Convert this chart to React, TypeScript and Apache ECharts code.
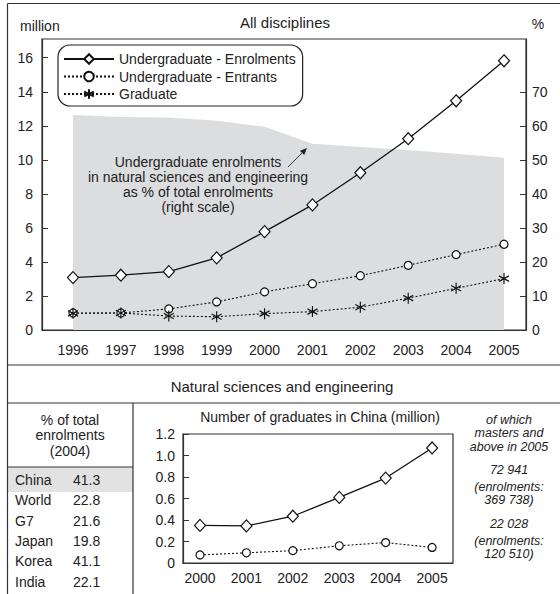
import React, { useEffect, useRef } from "react";
import * as echarts from "echarts";

const years = [1996, 1997, 1998, 1999, 2000, 2001, 2002, 2003, 2004, 2005];
const enrolments = [3.08, 3.22, 3.43, 4.24, 5.78, 7.35, 9.24, 11.24, 13.47, 15.82];
const entrants = [1.0, 1.0, 1.24, 1.65, 2.24, 2.72, 3.19, 3.8, 4.43, 5.04];
const graduates = [0.98, 1.0, 0.82, 0.78, 0.96, 1.08, 1.34, 1.87, 2.45, 3.02];
const nseSharePct = [63.2, 62.6, 62.4, 61.5, 59.7, 54.7, 53.8, 52.9, 51.8, 50.6];

const leftTicks = [0, 2, 4, 6, 8, 10, 12, 14, 16];
const rightTicks = [0, 10, 20, 30, 40, 50, 60, 70];

const nseYears = [2000, 2001, 2002, 2003, 2004, 2005];
const nseGraduates = [0.35, 0.345, 0.435, 0.61, 0.79, 1.07];
const nseMasters = [0.075, 0.095, 0.115, 0.16, 0.19, 0.145];

const countries = ["China", "World", "G7", "Japan", "Korea", "India"];
const countryShares = ["41.3", "22.8", "21.6", "19.8", "41.1", "22.1"];

const sideNotes = [
  "of which\nmasters and\nabove in 2005",
  "72 941",
  "(enrolments:\n369 738)",
  "22 028",
  "(enrolments:\n120 510)",
];
const sideNoteY = [433, 470, 493.5, 524, 547.5];

const FONT = "'Liberation Sans', Arial, Helvetica, sans-serif";
const INK = "#222";
const ASTERISK = "path://M5,0L5,10M0.67,2.5L9.33,7.5M0.67,7.5L9.33,2.5";

export default function App() {
  const ref = useRef<HTMLDivElement>(null);
  useEffect(() => {
    if (!ref.current) return;
    const chart = echarts.init(ref.current, null, { renderer: "svg" });
    const pair = (xs: number[], ys: number[]) => xs.map((x, i) => [x, ys[i]]);
    const txt = (text: string, x: number, y: number, extra: any = {}) => ({
      type: "text",
      x,
      y,
      z: 100,
      silent: true,
      style: {
        text,
        fill: INK,
        font: `14px ${FONT}`,
        textAlign: "center",
        textVerticalAlign: "middle",
        ...extra,
      },
    });
    const ln = (x1: number, y1: number, x2: number, y2: number, w = 1.2) => ({
      type: "line",
      z: 100,
      silent: true,
      shape: { x1, y1, x2, y2 },
      style: { stroke: "#333", lineWidth: w },
    });

    const graphics: any[] = [
      { type: "rect", silent: true, z: 1, shape: { x: 8, y: 467, width: 125, height: 25 }, style: { fill: "#e2e2e2" } },
      ln(7.5, 3.5, 560, 3.5),
      ln(7.5, 3.5, 7.5, 594),
      ln(7.5, 365, 560, 365),
      ln(7.5, 403, 560, 403),
      ln(133, 403, 133, 594),
      ln(7.5, 467, 133, 467),
      txt("All disciplines", 285, 22, { font: `15px ${FONT}` }),
      txt("million", 20, 26, { textAlign: "left" }),
      txt("%", 538, 24),
      txt("Undergraduate enrolments", 198, 162),
      txt("in natural sciences and engineering", 198, 177),
      txt("as % of total enrolments", 198, 192),
      txt("(right scale)", 198, 207),
      ln(288, 167, 303, 152, 1),
      {
        type: "polygon",
        z: 100,
        silent: true,
        shape: { points: [[307, 148], [304.2, 155.1], [299.9, 150.8]] },
        style: { fill: "#222" },
      },
      txt("Natural sciences and engineering", 282, 386, { font: `15px ${FONT}` }),
      txt("% of total", 70, 420),
      txt("enrolments", 70, 435),
      txt("(2004)", 70, 451),
      txt("Number of graduates in China (million)", 320, 417),
    ];
    countries.forEach((c, i) => {
      graphics.push(txt(c, 15, 480 + i * 20.3, { textAlign: "left" }));
      graphics.push(txt(countryShares[i], 73, 480 + i * 20.3, { textAlign: "left" }));
    });
    sideNotes.forEach((t, i) => {
      graphics.push(txt(t, 509, sideNoteY[i], { font: `italic 12.5px ${FONT}`, lineHeight: 13.5 }));
    });

    const axisText = { color: INK, fontSize: 14, fontFamily: FONT };

    chart.setOption({
      animation: false,
      textStyle: { fontFamily: FONT },
      grid: [
        { left: 42, top: 39, width: 484, height: 291, show: true, borderColor: "#333", borderWidth: 1.2, backgroundColor: "transparent" },
        { left: 183, top: 434, width: 270, height: 129, show: true, borderColor: "#333", borderWidth: 1.2, backgroundColor: "transparent" },
      ],
      legend: {
        data: ["Undergraduate - Enrolments", "Undergraduate - Entrants", "Graduate"],
        orient: "vertical",
        left: 58,
        top: 45,
        itemWidth: 50,
        itemHeight: 12,
        itemGap: 3.5,
        padding: [7, 7, 5, 5],
        borderColor: "#222",
        borderWidth: 1.2,
        borderRadius: 12,
        selectedMode: false,
        textStyle: { color: INK, fontSize: 14, fontFamily: FONT, lineHeight: 14 },
      },
      xAxis: [
        {
          type: "value",
          gridIndex: 0,
          min: 1995.353,
          max: 2005.459,
          axisLine: { lineStyle: { color: "#333", width: 1.2 } },
          axisTick: { show: false },
          splitLine: { show: false },
          axisLabel: { ...axisText, margin: 13, customValues: years, formatter: (v: number) => String(v) },
        },
        {
          type: "value",
          gridIndex: 1,
          min: 1999.634,
          max: 2005.45,
          axisLine: { lineStyle: { color: "#333", width: 1.2 } },
          axisTick: { show: false },
          splitLine: { show: false },
          axisLabel: { ...axisText, margin: 8, customValues: nseYears, formatter: (v: number) => String(v) },
        },
      ],
      yAxis: [
        {
          type: "value",
          gridIndex: 0,
          min: 0,
          max: 17.1,
          axisLine: { show: true, lineStyle: { color: "#333", width: 1.2 } },
          axisTick: { show: true, inside: true, length: 6, customValues: leftTicks, lineStyle: { color: "#333" } },
          splitLine: { show: false },
          axisLabel: { ...axisText, margin: 9, customValues: leftTicks },
        },
        {
          type: "value",
          gridIndex: 0,
          position: "right",
          min: 0,
          max: 85.5,
          axisLine: { show: true, lineStyle: { color: "#333", width: 1.2 } },
          axisTick: { show: true, inside: true, length: 6, customValues: rightTicks, lineStyle: { color: "#333" } },
          splitLine: { show: false },
          axisLabel: { ...axisText, margin: 6, customValues: rightTicks },
        },
        {
          type: "value",
          gridIndex: 1,
          min: 0,
          max: 1.2,
          interval: 0.2,
          axisLine: { show: true, lineStyle: { color: "#333", width: 1.2 } },
          axisTick: { show: true, inside: true, length: 6, lineStyle: { color: "#333" } },
          splitLine: { show: false },
          axisLabel: { ...axisText, margin: 8, formatter: (v: number) => (v === 0 ? "0" : v.toFixed(1)) },
        },
      ],
      series: [
        {
          name: "NSE share",
          type: "line",
          xAxisIndex: 0,
          yAxisIndex: 1,
          data: pair(years, nseSharePct),
          symbol: "none",
          lineStyle: { width: 0, color: "#dcdddf" },
          areaStyle: { color: "#dcdddf", opacity: 1 },
          z: 0,
          silent: true,
        },
        {
          name: "Undergraduate - Enrolments",
          type: "line",
          xAxisIndex: 0,
          yAxisIndex: 0,
          data: pair(years, enrolments),
          symbol: "diamond",
          symbolSize: [11, 12],
          lineStyle: { color: "#111", width: 1.3, type: "solid" },
          itemStyle: { color: "#fff", borderColor: "#111", borderWidth: 1.2 },
          z: 5,
        },
        {
          name: "Undergraduate - Entrants",
          type: "line",
          xAxisIndex: 0,
          yAxisIndex: 0,
          data: pair(years, entrants),
          symbol: "circle",
          symbolSize: 8,
          lineStyle: { color: "#111", width: 1.1, type: [2, 2] },
          itemStyle: { color: "#fff", borderColor: "#111", borderWidth: 1.2 },
          z: 4,
        },
        {
          name: "Graduate",
          type: "line",
          xAxisIndex: 0,
          yAxisIndex: 0,
          data: pair(years, graduates),
          symbol: ASTERISK,
          symbolSize: [10, 11],
          lineStyle: { color: "#111", width: 1.1, type: [2, 2] },
          itemStyle: { color: "#111", borderColor: "#111", borderWidth: 1.2 },
          z: 4,
        },
        {
          name: "NSE graduates",
          type: "line",
          xAxisIndex: 1,
          yAxisIndex: 2,
          data: pair(nseYears, nseGraduates),
          symbol: "diamond",
          symbolSize: [11, 12],
          lineStyle: { color: "#111", width: 1.3 },
          itemStyle: { color: "#fff", borderColor: "#111", borderWidth: 1.2 },
          z: 5,
        },
        {
          name: "NSE masters",
          type: "line",
          xAxisIndex: 1,
          yAxisIndex: 2,
          data: pair(nseYears, nseMasters),
          symbol: "circle",
          symbolSize: 8,
          lineStyle: { color: "#111", width: 1.1, type: [2, 2] },
          itemStyle: { color: "#fff", borderColor: "#111", borderWidth: 1.2 },
          z: 4,
        },
      ],
      graphic: graphics,
    });
    return () => chart.dispose();
  }, []);
  return (
    <div
      ref={ref}
      style={{ position: "absolute", left: 0, top: 0, width: 560, height: 594, background: "#fff" }}
    />
  );
}
